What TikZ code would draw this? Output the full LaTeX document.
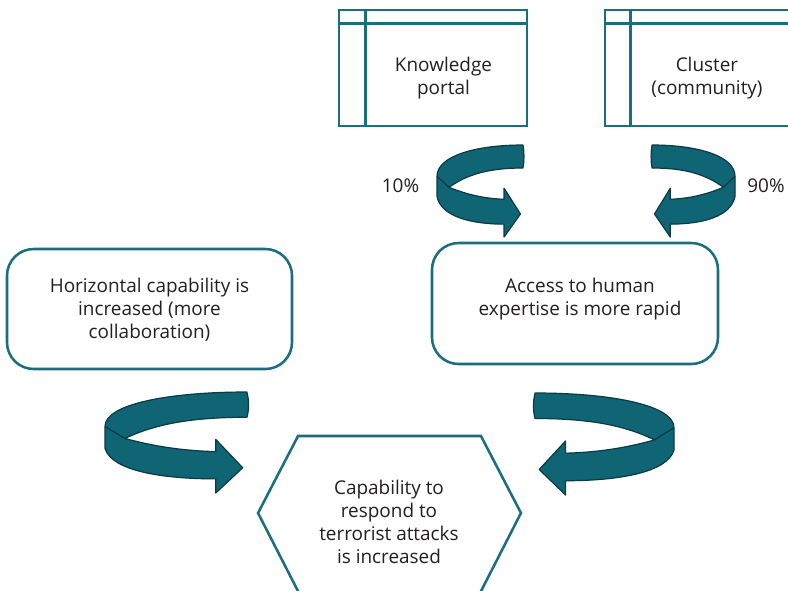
\documentclass[tikz,border=0pt]{standalone}
\usepackage{fontspec}
\setmainfont{Open Sans}
\definecolor{frame}{HTML}{1A6E7D}
\definecolor{arrowfill}{HTML}{0F6573}
\definecolor{arrowedge}{HTML}{0A3A44}
\definecolor{ink}{HTML}{231F20}

% one twisted ribbon arrow in unit coordinates:
% x = 0 at the fold, x = 1 at the far end; y = 0 at the top, y = 1 at the lower barb
\newcommand\twistarrow[1]{%
  \begin{scope}[#1]
    \filldraw[twist] (1,0) .. controls (0.45,0) and (0,0.12) .. (0,0.34)
      -- (0,0.56) .. controls (0.05,0.78) and (0.4,0.86) .. (0.78,0.86)
      -- (0.78,1) -- (0.97,0.75) -- (0.78,0.47) -- (0.78,0.59)
      .. controls (0.5,0.58) and (0.3,0.52) .. (0.14,0.46)
      .. controls (0.35,0.32) and (0.6,0.25) .. (1,0.25)
      .. controls (1.015,0.17) and (1.015,0.08) .. cycle;
    \draw[twist, fill=none] (0,0.34) -- (0.14,0.46);
  \end{scope}}

\tikzset{
  win/.style={draw=frame, line width=2.2pt, rectangle, inner sep=0pt},
  pill/.style={draw=frame, line width=1.9pt, rounded corners=20pt, inner sep=0pt},
  caption/.style={align=center, text=ink, inner sep=0pt,
    font=\fontsize{14.2}{17.25}\selectfont},
  twist/.style={fill=arrowfill, draw=arrowedge, line width=0.9pt, line join=round},
}

\begin{document}
\begin{tikzpicture}[x=0.75pt, y=-0.75pt]
  \clip (0,0) rectangle (788,590);
  \fill[white] (0,0) rectangle (788,590);

  % portal windows
  \node[win, minimum width=141pt, minimum height=87pt] (kp) at (433,68) {};
  \draw[frame, line width=2.2pt] ([yshift=-11.25pt]kp.north west) -- ([yshift=-11.25pt]kp.north east);
  \draw[frame, line width=2.2pt] ([xshift=21pt]kp.north west) -- ([xshift=21pt]kp.south west);
  \node[caption] (kpt) at (443.5,78) {Knowledge\\portal};

  \node[win, minimum width=138.75pt, minimum height=87pt] (cl) at (697.5,68) {};
  \draw[frame, line width=2.2pt] ([yshift=-11.25pt]cl.north west) -- ([yshift=-11.25pt]cl.north east);
  \draw[frame, line width=2.2pt] ([xshift=20.25pt]cl.north west) -- ([xshift=20.25pt]cl.south west);
  \node[caption] (clt) at (707,78) {Cluster\\(community)};

  % outcome boxes
  \node[pill, minimum width=213.75pt, minimum height=90pt] (hz) at (149.5,309) {};
  \node[caption] (hzt) at (149.5,310) {Horizontal capability is\\increased (more\\collaboration)};

  \node[pill, minimum width=214.5pt, minimum height=90.75pt] (ac) at (575,303.5) {};
  \node[caption] (act) at (580,299.5) {Access to human\\expertise is more rapid};

  % final hexagon, its lower edge running just past the bottom
  \node[caption] (cap) at (389,522) {Capability to\\respond to\\terrorist attacks\\is increased};
  \coordinate (hc) at (389.5,513);
  \draw[frame, line width=1.9pt, line join=miter]
    ([xshift=-68.6pt,yshift=57.75pt]hc) -- ([xshift=68.6pt,yshift=57.75pt]hc)
    -- ([xshift=98.6pt]hc) -- ([xshift=67.9pt,yshift=-60pt]hc)
    -- ([xshift=-67.9pt,yshift=-60pt]hc) -- ([xshift=-98.6pt]hc) -- cycle;

  % shares
  \node[caption] (p10) at (400.5,186) {10\%};
  \node[caption] (p90) at (766,186) {90\%};

  % twisted arrows
  \twistarrow{shift={(437,145)}, xscale=86, yscale=92}
  \twistarrow{shift={(735,145)}, xscale=-83, yscale=92}
  \twistarrow{shift={(105,392)}, xscale=142, yscale=101}
  \twistarrow{shift={(674,393)}, xscale=-139, yscale=102}
\end{tikzpicture}
\end{document}
